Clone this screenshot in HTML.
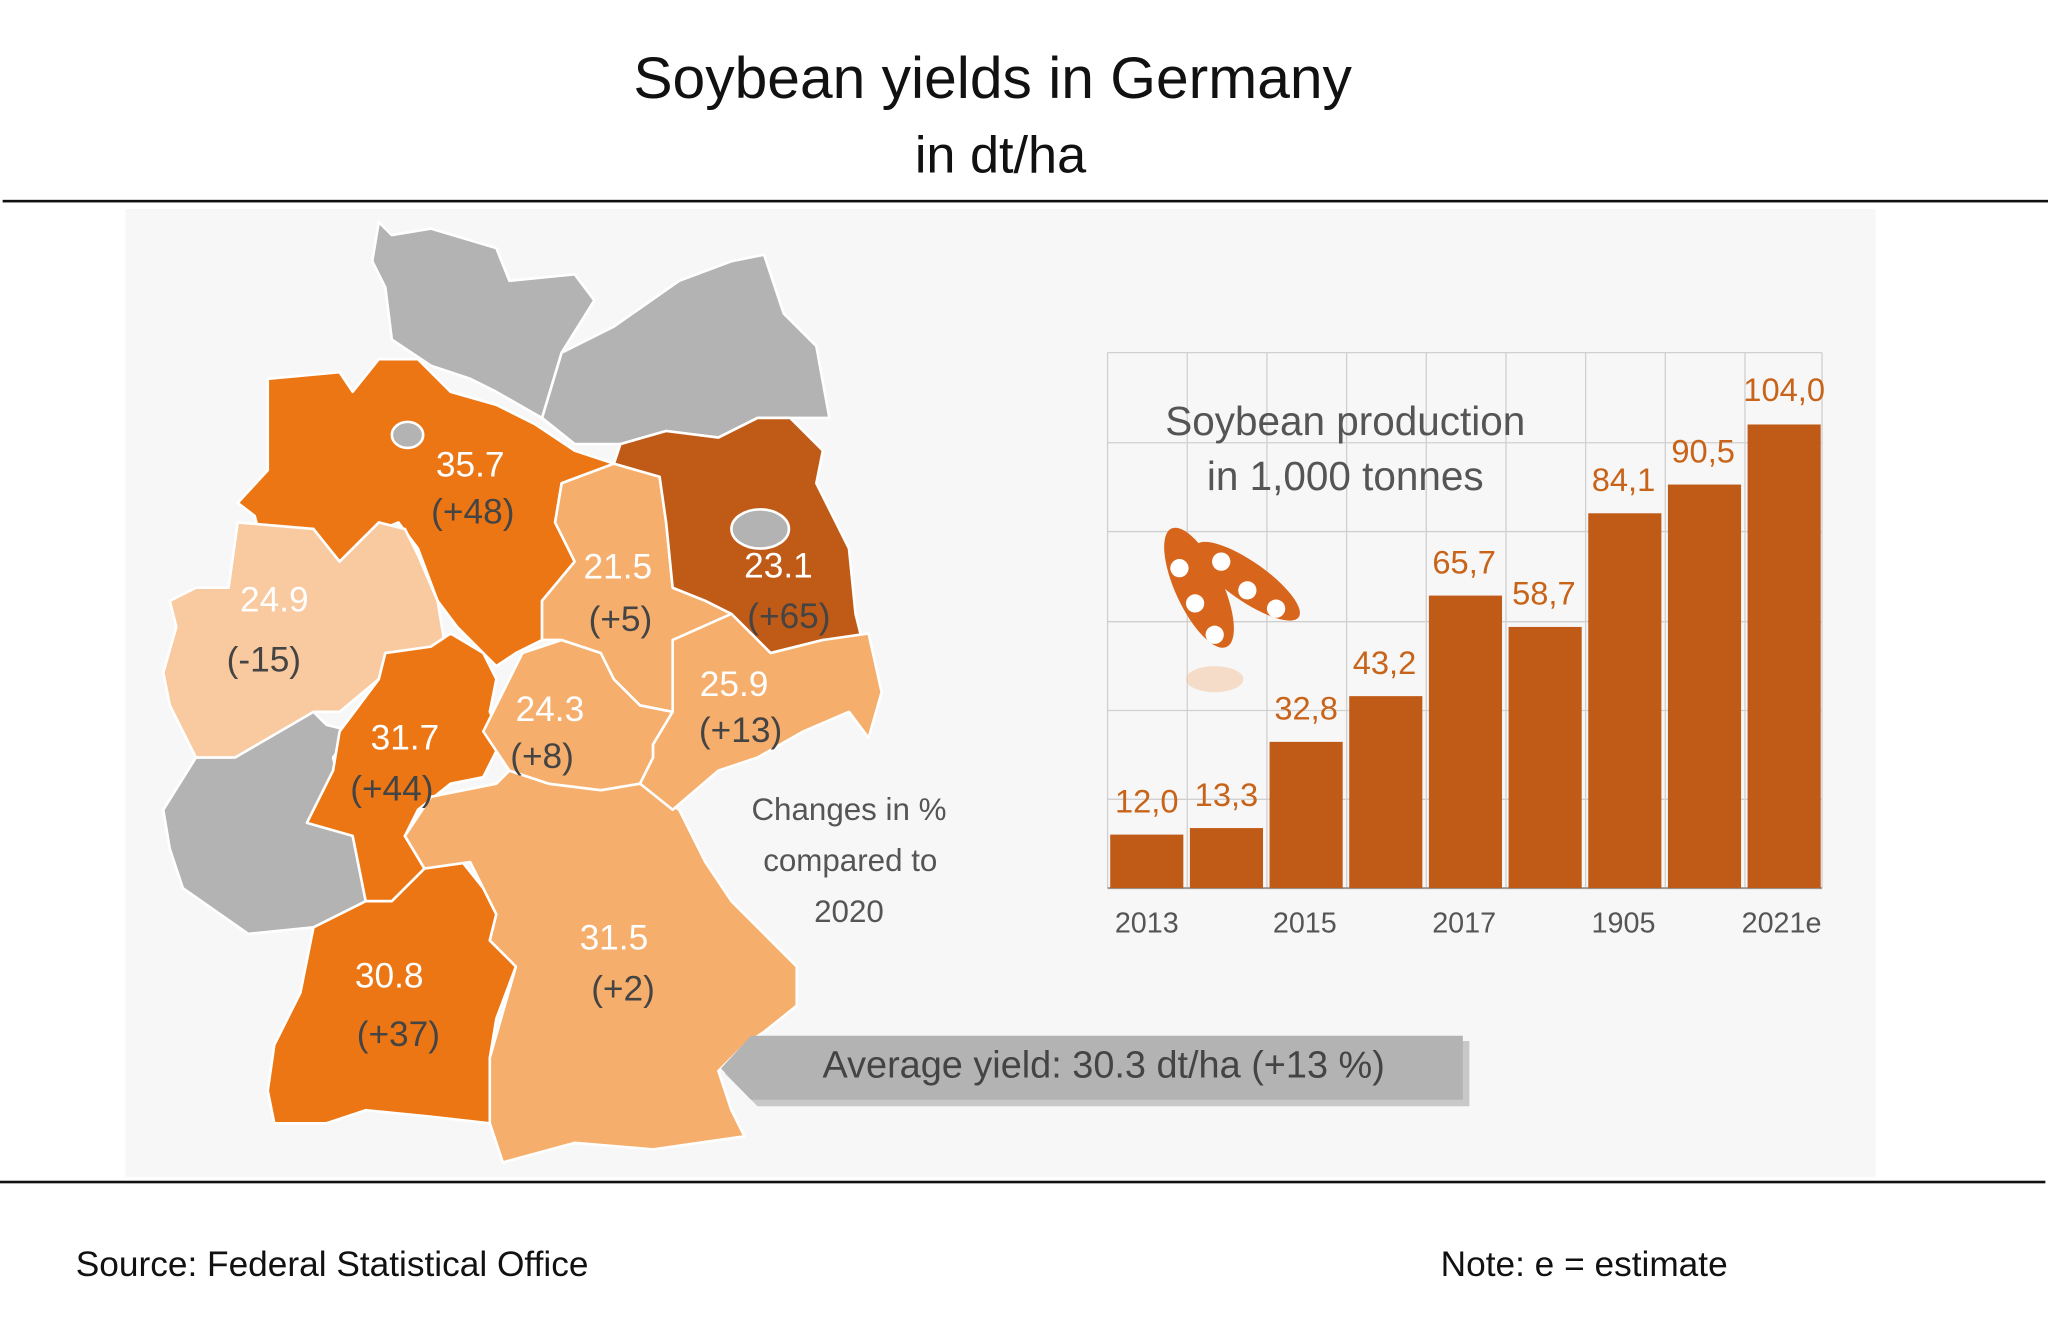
<!DOCTYPE html>
<html><head><meta charset="utf-8"><style>
html,body{margin:0;padding:0;background:#fff}
svg{display:block}
text{font-family:"Liberation Sans","DejaVu Sans",sans-serif}
</style></head><body>
<svg width="2048" height="1327" viewBox="0 0 1568 1016" xmlns="http://www.w3.org/2000/svg">
<rect width="1568" height="1016" fill="#fff"/>
<text x="760" y="75" font-size="45" text-anchor="middle" fill="#111">Soybean  yields in Germany</text>
<text x="766" y="132" font-size="40" text-anchor="middle" fill="#111">in dt/ha</text>
<rect x="2" y="153" width="1566" height="2" fill="#111"/>
<rect x="96" y="160" width="1340" height="741" fill="#f7f7f7"/>
<rect x="0" y="904" width="1566" height="2" fill="#111"/>
<text x="58" y="977" font-size="27" fill="#111">Source: Federal Statistical Office</text>
<text x="1103" y="977" font-size="27" fill="#111">Note: e = estimate</text>

<g stroke="#fff" stroke-width="2" stroke-linejoin="round">
<polygon fill="#b3b3b3" points="290,170 300,180 330,175 380,190 390,215 440,210 455,230 430,270 415,320 380,300 360,290 330,280 300,260 295,220 285,200"/>
<polygon fill="#b3b3b3" points="415,320 430,270 470,250 520,215 560,200 585,195 600,240 625,265 635,320 580,320 550,335 510,330 475,340 440,340"/>
<polygon fill="#ec7614" points="205,290 260,285 270,300 290,275 320,275 345,300 380,310 410,325 440,345 470,355 430,370 425,400 440,430 415,460 415,490 395,500 380,510 350,480 335,460 320,420 305,400 280,410 260,430 250,420 240,405 200,415 195,395 182,385 205,360"/>
<polygon fill="#f9c9a0" points="182,400 240,405 260,430 290,400 310,405 320,425 335,460 340,490 325,500 295,500 290,520 260,545 240,545 220,560 180,580 150,580 130,540 125,515 135,480 130,460 150,450 175,450"/>
<polygon fill="#b3b3b3" points="125,620 150,580 180,580 240,545 250,555 270,560 255,580 260,600 240,625 270,640 280,690 270,700 240,710 190,715 140,680 130,650"/>
<polygon fill="#ec7614" points="290,520 295,500 330,495 345,485 370,500 380,520 375,545 385,565 370,595 345,600 320,620 310,640 325,665 300,690 280,690 270,640 235,630 255,590 260,560"/>
<polygon fill="#ec7614" points="240,710 280,690 300,690 330,660 350,655 370,680 380,700 375,720 395,740 380,780 375,810 375,860 330,855 280,850 250,860 210,860 205,835 210,800 230,760"/>
<polygon fill="#f5ae6b" points="325,665 310,640 330,610 380,600 390,590 420,600 460,605 490,600 520,620 540,660 560,690 590,720 610,740 610,770 585,790 570,800 550,820 560,850 570,870 500,880 440,875 385,890 375,860 375,810 395,740 375,720 380,700 360,660"/>
<polygon fill="#f5ae6b" points="370,560 385,530 400,500 430,490 460,500 470,520 490,540 515,545 500,570 500,580 490,600 460,605 420,600 390,590"/>
<polygon fill="#f5ae6b" points="415,460 440,430 425,400 430,370 470,355 505,365 510,400 515,450 540,460 560,470 520,490 515,545 490,540 470,520 460,500 430,490 415,490"/>
<polygon fill="#c05a17" points="470,355 475,340 510,330 550,335 580,320 605,320 615,330 630,345 625,370 640,400 650,420 655,470 660,490 630,490 590,500 560,470 540,460 515,450 510,400 505,365"/>
<polygon fill="#f5ae6b" points="515,490 560,470 590,500 630,490 665,485 675,530 665,565 650,545 615,560 580,580 550,590 515,620 490,600 500,580 500,570 515,545"/>
<ellipse cx="582" cy="405" rx="22" ry="15" fill="#b3b3b3"/>
<ellipse cx="312" cy="333" rx="12" ry="10" fill="#b3b3b3"/>
</g>
<g font-size="27" text-anchor="middle">
<text x="360" y="365" fill="#fff">35.7</text><text x="362" y="401" fill="#444">(+48)</text>
<text x="210" y="468" fill="#fff">24.9</text><text x="202" y="514" fill="#444">(-15)</text>
<text x="473" y="443" fill="#fff">21.5</text><text x="475" y="483" fill="#444">(+5)</text>
<text x="596" y="442" fill="#fff">23.1</text><text x="604" y="481" fill="#444">(+65)</text>
<text x="562" y="533" fill="#fff">25.9</text><text x="567" y="568" fill="#444">(+13)</text>
<text x="421" y="552" fill="#fff">24.3</text><text x="415" y="588" fill="#444">(+8)</text>
<text x="310" y="574" fill="#fff">31.7</text><text x="300" y="613" fill="#444">(+44)</text>
<text x="470" y="727" fill="#fff">31.5</text><text x="477" y="766" fill="#444">(+2)</text>
<text x="298" y="756" fill="#fff">30.8</text><text x="305" y="801" fill="#444">(+37)</text>
</g>
<g font-size="24" text-anchor="middle" fill="#555">
<text x="650" y="628">Changes in %</text>
<text x="651" y="667">compared  to</text>
<text x="650" y="706">2020</text>
</g>
<polygon points="580,797 1125,797 1125,847 580,847 555,822" fill="#9a9a9a" opacity="0.5"/>
<polygon points="575,793 1120,793 1120,842 575,842 552,818" fill="#b3b3b3"/>
<text x="845" y="825" font-size="29" text-anchor="middle" fill="#444">Average yield: 30.3 dt/ha (+13 %)</text>

<g stroke="#d0d0d0" stroke-width="1">
<line x1="848" y1="270" x2="1395" y2="270"/><line x1="848" y1="339" x2="1395" y2="339"/>
<line x1="848" y1="407" x2="1395" y2="407"/><line x1="848" y1="476" x2="1395" y2="476"/>
<line x1="848" y1="544" x2="1395" y2="544"/><line x1="848" y1="612" x2="1395" y2="612"/>
<line x1="848" y1="270" x2="848" y2="680"/><line x1="909" y1="270" x2="909" y2="680"/>
<line x1="970" y1="270" x2="970" y2="680"/><line x1="1031" y1="270" x2="1031" y2="680"/>
<line x1="1092" y1="270" x2="1092" y2="680"/><line x1="1153" y1="270" x2="1153" y2="680"/>
<line x1="1214" y1="270" x2="1214" y2="680"/><line x1="1275" y1="270" x2="1275" y2="680"/>
<line x1="1336" y1="270" x2="1336" y2="680"/><line x1="1395" y1="270" x2="1395" y2="680"/>
</g>
<line x1="848" y1="680" x2="1395" y2="680" stroke="#999" stroke-width="1.5"/>
<text x="1030" y="333" font-size="31" text-anchor="middle" fill="#555">Soybean production</text>
<text x="1030" y="375" font-size="31" text-anchor="middle" fill="#555">in 1,000 tonnes</text>
<g fill="#c05a17">
<rect x="850" y="639" width="56" height="41"/>
<rect x="911" y="634" width="56" height="46"/>
<rect x="972" y="568" width="56" height="112"/>
<rect x="1033" y="533" width="56" height="147"/>
<rect x="1094" y="456" width="56" height="224"/>
<rect x="1155" y="480" width="56" height="200"/>
<rect x="1216" y="393" width="56" height="287"/>
<rect x="1277" y="371" width="56" height="309"/>
<rect x="1338" y="325" width="56" height="355"/>
</g>
<g font-size="25" text-anchor="middle" fill="#c8641a">
<text x="878" y="622">12,0</text><text x="939" y="617">13,3</text>
<text x="1000" y="551">32,8</text><text x="1060" y="516">43,2</text>
<text x="1121" y="439">65,7</text><text x="1182" y="463">58,7</text>
<text x="1243" y="376">84,1</text><text x="1304" y="354">90,5</text>
<text x="1366" y="307">104,0</text>
</g>
<g font-size="22" text-anchor="middle" fill="#555">
<text x="878" y="714">2013</text><text x="999" y="714">2015</text>
<text x="1121" y="714">2017</text><text x="1243" y="714">1905</text>
<text x="1364" y="714">2021e</text>
</g>
<g>
<ellipse cx="918" cy="450" rx="18" ry="50" fill="#d8651c" transform="rotate(-25 918 450)"/>
<ellipse cx="955" cy="445" rx="15" ry="48" fill="#d8651c" transform="rotate(-55 955 445)"/>
<g fill="#fff">
<circle cx="903" cy="435" r="7"/><circle cx="915" cy="462" r="7"/><circle cx="930" cy="486" r="7"/>
<circle cx="935" cy="430" r="7"/><circle cx="955" cy="452" r="7"/><circle cx="977" cy="466" r="7"/>
</g>
<ellipse cx="930" cy="520" rx="22" ry="10" fill="#f3c9a8" opacity="0.6"/>
</g>
</svg>
</body></html>
